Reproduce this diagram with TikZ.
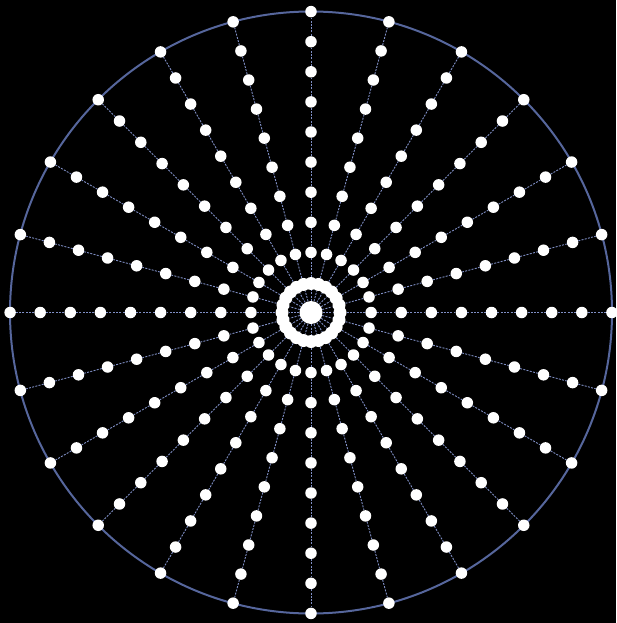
\documentclass[tikz,border=0pt]{standalone}
\usetikzlibrary{backgrounds}
\definecolor{rim}{HTML}{56669C}
\definecolor{spoke}{HTML}{7F8EC4}
\begin{document}
\begin{tikzpicture}[x=1pt,y=-1pt,
  dot/.style={circle,fill=white,inner sep=0pt,minimum size=11.5pt},
  ringdot/.style={circle,fill=white,inner sep=0pt,minimum size=13pt},
  hub/.style={circle,fill=white,inner sep=0pt,minimum size=23pt},
  link/.style={draw=spoke,line width=0.9pt,dash pattern=on 2pt off 1.3pt},
  rimline/.style={draw=rim,line width=2pt}]
\useasboundingbox (0,0) rectangle (616,623);
\node[hub] (c) at (311,312.5) {};
\foreach \i in {0,...,23} {
  \pgfmathsetmacro{\a}{\i*15}
  \node[ringdot] (r\i) at ({311+29*cos(\a)},{312.5+29*sin(\a)}) {};
  \foreach \k in {1,...,9} {
    \pgfmathsetmacro{\rr}{30+30.1*\k}
    \node[dot] (s\i k\k) at ({311+\rr*cos(\a)},{312.5+\rr*sin(\a)}) {};
  }
}
\begin{pgfonlayer}{background}
  \fill[black] (0,0) rectangle (616,623);
  \draw[rimline] (c.center) circle (301pt);
  \foreach \i in {0,...,23} {
    \draw[link] (c) -- (r\i);
    \draw[link] (r\i) -- (s\i k1);
    \foreach \k [count=\j from 2] in {1,...,8} {
      \draw[link] (s\i k\k) -- (s\i k\j);
    }
  }
\end{pgfonlayer}
\end{tikzpicture}
\end{document}
